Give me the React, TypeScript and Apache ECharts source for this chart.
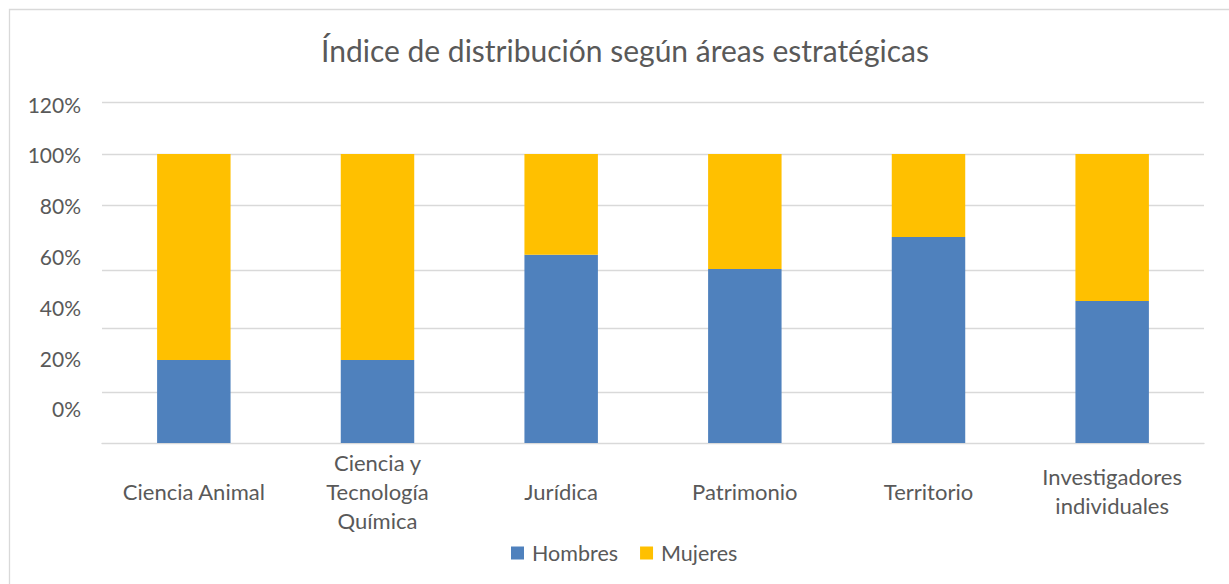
import React, { useEffect, useRef } from "react";
import * as echarts from "echarts";

const categories = [
  "Ciencia Animal",
  "Ciencia y\nTecnología\nQuímica",
  "Jurídica",
  "Patrimonio",
  "Territorio",
  "Investigadores\nindividuales",
];
const hombres = [28.7, 28.7, 65.1, 60.2, 71.3, 49.1];
const mujeres = [71.3, 71.3, 34.9, 39.8, 28.7, 50.9];
const gridLineValues = [17.6, 39.8, 59.9, 82.4, 100, 118];
const tickLabels = [0, 20, 40, 60, 80, 100, 120];

const FONT = "Lato";
const TEXT = "#595959";
const GRID = "#d9d9d9";

export default function App() {
  const ref = useRef<HTMLDivElement>(null);
  useEffect(() => {
    if (!ref.current) return;
    const chart = echarts.init(ref.current, undefined, { renderer: "svg" });
    chart.setOption({
      animation: false,
      backgroundColor: "#ffffff",
      textStyle: { fontFamily: FONT },
      title: {
        text: "Índice de distribución según áreas estratégicas",
        left: 620,
        textAlign: "center",
        top: 30,
        textStyle: { fontFamily: FONT, fontSize: 30, fontWeight: "normal", color: TEXT },
      },
      graphic: [
        {
          type: "rect",
          shape: { x: 9.5, y: 9.5, width: 1400, height: 800 },
          style: { fill: "none", stroke: GRID, lineWidth: 1.3 },
          silent: true,
        },
      ],
      legend: {
        data: ["Hombres", "Mujeres"],
        left: 506,
        top: 537,
        icon: "rect",
        itemWidth: 13,
        itemHeight: 13,
        itemGap: 22,
        textStyle: { fontFamily: FONT, fontSize: 21.5, color: TEXT, padding: [0, 0, 0, 3] },
      },
      grid: { left: 102, top: 102, width: 1102, height: 341, containLabel: false },
      xAxis: {
        type: "category",
        data: categories,
        axisTick: { show: false },
        axisLine: { lineStyle: { color: GRID, width: 1.3 } },
        axisLabel: {
          fontFamily: FONT,
          fontSize: 22,
          color: TEXT,
          lineHeight: 29,
          margin: 48,
          verticalAlign: "middle",
          interval: 0,
        },
      },
      yAxis: [
        {
          type: "value",
          min: 0,
          max: 118,
          axisLabel: { show: false },
          axisLine: { show: false },
          axisTick: { show: false },
          splitLine: { show: false },
        },
        {
          type: "value",
          position: "left",
          min: -13.38,
          max: 120.79,
          axisLine: { show: false },
          axisTick: { show: false },
          splitLine: { show: false },
          axisLabel: {
            customValues: tickLabels,
            formatter: (v: number) => `${v}%`,
            fontFamily: FONT,
            fontSize: 21,
            color: TEXT,
            margin: 21,
          },
        },
      ],
      series: [
        {
          name: "Hombres",
          type: "bar",
          stack: "total",
          yAxisIndex: 0,
          barWidth: "40%",
          data: hombres,
          itemStyle: { color: "#4f81bd" },
          z: 3,
          markLine: {
            silent: true,
            symbol: "none",
            z: 1,
            animation: false,
            label: { show: false },
            lineStyle: { color: GRID, type: "solid", width: 1.3 },
            data: gridLineValues.map((v) => ({ yAxis: v })),
          },
        },
        {
          name: "Mujeres",
          type: "bar",
          stack: "total",
          yAxisIndex: 0,
          barWidth: "40%",
          data: mujeres,
          itemStyle: { color: "#ffc000" },
          z: 3,
        },
      ],
    });
    return () => chart.dispose();
  }, []);
  return (
    <div
      ref={ref}
      style={{ position: "fixed", left: 0, top: 0, width: 1229, height: 584 }}
    />
  );
}
